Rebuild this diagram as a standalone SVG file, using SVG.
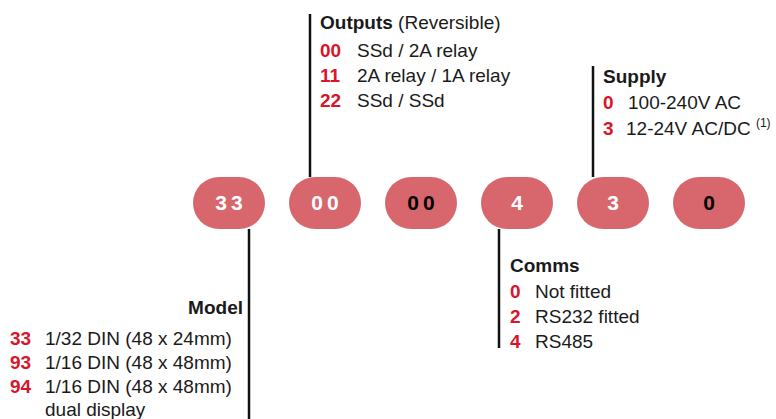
<svg xmlns="http://www.w3.org/2000/svg" width="776" height="419" viewBox="0 0 776 419">
<style>
.t{font-family:"Liberation Sans",Arial,sans-serif;font-size:19px;fill:#1a1a1a}
.b{font-weight:bold}
.r{fill:#d7162b;font-weight:bold}
.pill{fill:#d7676c}
.pt{font-family:"Liberation Sans",Arial,sans-serif;font-size:21px;font-weight:bold;letter-spacing:4px;text-anchor:middle}
.w{fill:#ffffff}
.k{fill:#000000}
.ln{stroke:#111;stroke-width:2.5;fill:none}
</style>
<g id="connectors">
<line class="ln" x1="310" y1="14" x2="310" y2="177"/>
<line class="ln" x1="593" y1="66" x2="593" y2="177"/>
<line class="ln" x1="249" y1="229" x2="249" y2="419"/>
<line class="ln" x1="499" y1="229" x2="499" y2="348"/>
</g>
<g id="pill-model"><rect class="pill" x="193" y="177" width="72" height="52" rx="26"/><text class="pt w" x="231" y="210">33</text></g>
<g id="pill-outputs"><rect class="pill" x="289" y="177" width="72" height="52" rx="26"/><text class="pt w" x="327" y="210">00</text></g>
<g id="pill-3"><rect class="pill" x="385" y="177" width="72" height="52" rx="26"/><text class="pt k" x="423" y="210">00</text></g>
<g id="pill-comms"><rect class="pill" x="481" y="177" width="72" height="52" rx="26"/><text class="pt w" x="519" y="210">4</text></g>
<g id="pill-supply"><rect class="pill" x="577" y="177" width="72" height="52" rx="26"/><text class="pt w" x="615" y="210">3</text></g>
<g id="pill-6"><rect class="pill" x="673" y="177" width="72" height="52" rx="26"/><text class="pt k" x="711" y="210">0</text></g>
<g id="outputs">
<text class="t" x="320" y="29"><tspan class="b">Outputs</tspan> (Reversible)</text>
<text class="t r" x="320" y="57">00</text><text class="t" x="357" y="57">SSd / 2A relay</text>
<text class="t r" x="320" y="82">11</text><text class="t" x="357" y="82">2A relay / 1A relay</text>
<text class="t r" x="320" y="107">22</text><text class="t" x="357" y="107">SSd / SSd</text>
</g>
<g id="supply">
<text class="t b" x="603" y="83">Supply</text>
<text class="t r" x="603" y="109">0</text><text class="t" x="628" y="109">100-240V AC</text>
<text class="t r" x="603" y="135">3</text><text class="t" x="626" y="135">12-24V AC/DC <tspan font-size="12" dy="-8">(1)</tspan></text>
</g>
<g id="comms">
<text class="t b" x="510" y="272">Comms</text>
<text class="t r" x="510" y="298">0</text><text class="t" x="535" y="298">Not fitted</text>
<text class="t r" x="510" y="323">2</text><text class="t" x="535" y="323">RS232 fitted</text>
<text class="t r" x="510" y="348">4</text><text class="t" x="535" y="348">RS485</text>
</g>
<g id="model">
<text class="t b" x="243" y="314" text-anchor="end">Model</text>
<text class="t r" x="10" y="345">33</text><text class="t" x="45" y="345">1/32 DIN (48 x 24mm)</text>
<text class="t r" x="10" y="369">93</text><text class="t" x="45" y="369">1/16 DIN (48 x 48mm)</text>
<text class="t r" x="10" y="393">94</text><text class="t" x="45" y="393">1/16 DIN (48 x 48mm)</text>
<text class="t" x="45" y="416">dual display</text>
</g>
</svg>
